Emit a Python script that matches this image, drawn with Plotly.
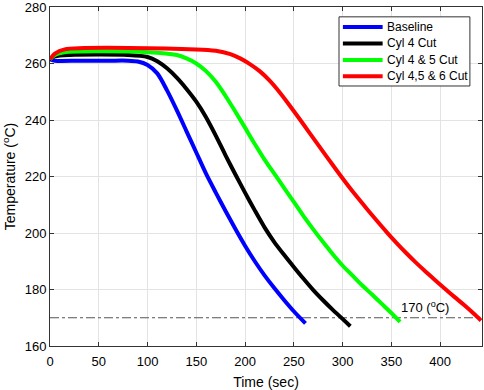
import plotly.graph_objects as go

# Time (sec) and temperature (degC) series
baseline_t = [0, 5, 30, 60, 80, 90, 100, 110, 120, 130, 140, 150, 160, 170, 180, 190, 200, 210, 220, 230, 240, 250, 262]
baseline_T = [261.5, 261.0, 261.0, 261.0, 261.0, 260.7, 259.5, 256.5, 250.5, 243.5, 236.0, 228.5, 221.0, 214.3, 207.8, 201.5, 195.5, 190.0, 185.0, 180.5, 176.3, 172.3, 168.0]

cyl4_t = [0, 5, 20, 80, 100, 110, 120, 130, 140, 150, 160, 170, 180, 190, 200, 210, 220, 230, 240, 250, 260, 270, 280, 290, 300, 308]
cyl4_T = [261.5, 262.5, 263.0, 263.0, 262.3, 260.8, 258.3, 255.0, 251.0, 246.5, 241.0, 234.5, 227.5, 220.8, 214.3, 208.0, 202.0, 196.8, 192.3, 188.0, 183.8, 179.8, 176.2, 172.8, 169.6, 167.0]

cyl45_t = [0, 5, 15, 100, 130, 140, 150, 160, 170, 180, 190, 200, 210, 220, 230, 240, 250, 260, 270, 280, 290, 300, 310, 320, 330, 340, 350, 359]
cyl45_T = [261.5, 263.0, 264.0, 264.0, 263.0, 261.8, 260.0, 257.3, 253.5, 248.5, 243.0, 237.3, 231.5, 226.0, 221.0, 216.0, 211.0, 206.0, 201.3, 196.8, 192.5, 188.5, 185.0, 181.5, 178.3, 175.0, 171.7, 168.5]

cyl456_t = [0, 5, 15, 150, 170, 185, 195, 205, 215, 225, 235, 245, 255, 265, 275, 285, 295, 305, 315, 325, 335, 345, 355, 365, 375, 385, 395, 405, 415, 425, 435, 442]
cyl456_T = [261.5, 263.5, 265.0, 265.0, 264.5, 263.3, 261.8, 259.8, 257.3, 254.0, 250.0, 245.5, 240.8, 236.0, 231.2, 226.4, 221.7, 217.1, 212.7, 208.5, 204.4, 200.4, 196.6, 193.0, 189.6, 186.4, 183.3, 180.3, 177.3, 174.4, 171.3, 169.0]

series_names = ["Baseline", "Cyl 4 Cut", "Cyl 4 & 5 Cut", "Cyl 4,5 & 6 Cut"]
series_colors = ["#0000FF", "#000000", "#00FF00", "#FF0000"]

THRESHOLD = 170
THRESHOLD_LABEL = "170 (<sup>o</sup>C)"
LABEL_X = 385

x_ticks = [0, 50, 100, 150, 200, 250, 300, 350, 400]
y_ticks = [160, 180, 200, 220, 240, 260, 280]

FONT = "Liberation Sans, Arial, sans-serif"

fig = go.Figure()

fig.add_trace(go.Scatter(x=[0, 443], y=[THRESHOLD, THRESHOLD], mode="lines",
                         line=dict(color="#555555", width=1, dash="dashdot"),
                         showlegend=False, hoverinfo="skip"))

for (t, T), name, col in zip([(baseline_t, baseline_T), (cyl4_t, cyl4_T),
                              (cyl45_t, cyl45_T), (cyl456_t, cyl456_T)],
                             series_names, series_colors):
    fig.add_trace(go.Scatter(x=t, y=T, mode="lines", name=name, showlegend=False,
                             line=dict(color=col, width=4, shape="spline", smoothing=0.8)))

fig.add_annotation(x=LABEL_X, y=THRESHOLD, text=THRESHOLD_LABEL, showarrow=False,
                   yanchor="bottom", yshift=1, font=dict(size=13, color="#000000", family=FONT))

# Legend box drawn in paper coordinates (MATLAB-like compact legend)
LEG_X0, LEG_X1, LEG_Y0, LEG_Y1 = 0.669, 0.972, 0.767, 0.971
LEG_LINE_X0, LEG_LINE_X1, LEG_TEXT_X = 0.678, 0.770, 0.775
LEG_ROW_TOP, LEG_ROW_STEP = 0.941, 0.0485
fig.add_shape(type="rect", xref="paper", yref="paper", x0=LEG_X0, x1=LEG_X1, y0=LEG_Y0, y1=LEG_Y1,
              line=dict(color="#333333", width=1), fillcolor="white", layer="above")
for i, (name, col) in enumerate(zip(series_names, series_colors)):
    yy = LEG_ROW_TOP - i * LEG_ROW_STEP
    fig.add_shape(type="line", xref="paper", yref="paper", x0=LEG_LINE_X0, x1=LEG_LINE_X1, y0=yy, y1=yy,
                  line=dict(color=col, width=4), layer="above")
    fig.add_annotation(xref="paper", yref="paper", x=LEG_TEXT_X, y=yy, text=name, showarrow=False,
                       xanchor="left", yanchor="middle", font=dict(size=12, color="#000000", family=FONT))

axis_common = dict(showline=True, linecolor="#333333", linewidth=1, mirror="ticks",
                   ticks="inside", ticklen=4, tickcolor="#333333", automargin=False,
                   showgrid=True, gridcolor="#E3E3E3", gridwidth=1, zeroline=False,
                   ticklabeloverflow="allow",
                   tickfont=dict(size=13, color="#000000", family=FONT))

fig.update_layout(
    width=484, height=390,
    margin=dict(l=50, r=2, t=7, b=44, pad=0),
    paper_bgcolor="white", plot_bgcolor="white",
    font=dict(family=FONT, color="#000000"),
    showlegend=False,
    xaxis=dict(range=[0, 443], tickvals=x_ticks, ticklabelstandoff=3,
               title=dict(text="Time (sec)", font=dict(size=14), standoff=9), **axis_common),
    yaxis=dict(range=[160, 280], tickvals=y_ticks,
               title=dict(text="Temperature (<sup>o</sup>C)", font=dict(size=14), standoff=6), **axis_common),
)

fig.write_html("out.html", config={"displayModeBar": False},
               post_script="document.body.style.margin='0';document.body.style.overflow='hidden';")
